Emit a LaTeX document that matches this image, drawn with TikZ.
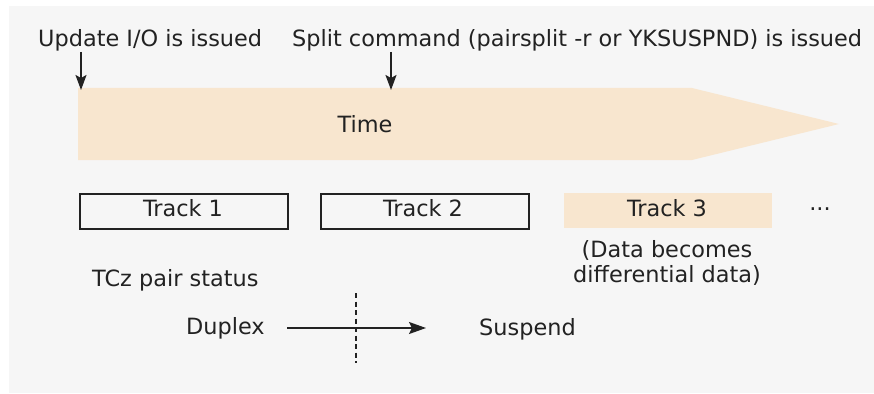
\documentclass[tikz,border=0pt]{standalone}
\usepackage{fontspec}
\setmainfont{DejaVu Sans}
\usetikzlibrary{arrows.meta}
\definecolor{panel}{HTML}{F6F6F6}
\definecolor{peach}{HTML}{F8E6CF}
\definecolor{ink}{HTML}{222222}
\begin{document}
\begin{tikzpicture}[x=1pt,y=-1pt,
  lbl/.style={font=\fontsize{22.4}{26}\selectfont, text=ink, inner sep=0pt, anchor=base},
  trackbox/.style={minimum width=208pt, minimum height=35pt, inner sep=0pt, anchor=north west},
  pointer/.style={-{Stealth[length=15pt,width=11pt,inset=3pt]}, line width=1.8pt, draw=ink},
  hpointer/.style={-{Stealth[length=17pt,width=12pt,inset=3pt]}, line width=1.6pt, draw=ink}]
\useasboundingbox (0,0) rectangle (874,393);
\fill[white] (0,0) rectangle (874,393);
\fill[panel] (9,6) rectangle (874,393);
% time band
\fill[peach] (78,88) -- (692,88) -- (839,124) -- (692,160) -- (78,160) -- cycle;
\node[lbl] (time) at (365,132) {Time};
% event labels
\node[lbl, anchor=base west] (upd) at (38,47) {Update I/O is issued};
\node[lbl, anchor=base west] (split) at (292,47) {Split command (pairsplit -r or YKSUSPND) is issued};
\coordinate (updend) at (81,90);
\coordinate (splitend) at (391,90);
\draw[pointer] (81,52) -- (updend);
\draw[pointer] (391,52) -- (splitend);
% tracks
\node[trackbox, draw=ink, line width=1.5pt] (t1) at (79,193) {};
\node[trackbox, draw=ink, line width=1.5pt] (t2) at (320,193) {};
\node[trackbox, fill=peach] (t3) at (564,193) {};
\node[lbl] at (183,216) {Track 1};
\node[lbl] at (423,216) {Track 2};
\node[lbl] at (667,216) {Track 3};
\node[lbl] (dots) at (820,210) {...};
\node[lbl] (d1) at (667,257) {(Data becomes};
\node[lbl] (d2) at (667,282) {differential data)};
% status
\node[lbl, anchor=base west] (tcz) at (92,286) {TCz pair status};
\node[lbl, anchor=base west] (dup) at (186,334) {Duplex};
\node[lbl, anchor=base west] (sus) at (479,335) {Suspend};
\coordinate (arrS) at (287,328);
\coordinate (arrE) at (426,328);
\draw[hpointer] (arrS) -- (arrE);
\draw[ink, line width=1.3pt, dash pattern=on 5pt off 3.5pt] (356,293) -- (356,363);
\end{tikzpicture}
\end{document}
